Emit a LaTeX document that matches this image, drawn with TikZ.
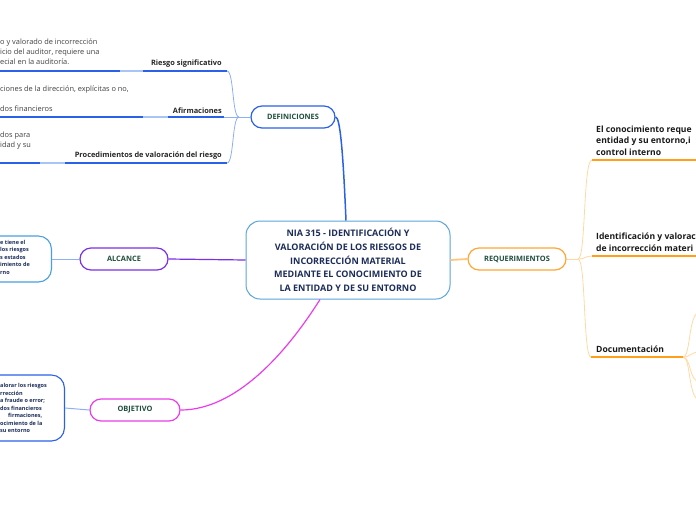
\documentclass[tikz,border=0pt]{standalone}
\usepackage{fontspec}
\setmainfont{Open Sans}
\setsansfont{Open Sans}
\usetikzlibrary{positioning,calc}

\definecolor{nianavy}{HTML}{1C2D5A}
\definecolor{pillgreen}{HTML}{1F4E3D}
\definecolor{mainblue}{HTML}{5AA5DC}
\definecolor{defblue}{HTML}{2B60E8}
\definecolor{lightseg}{HTML}{A9C5F6}
\definecolor{branchblue}{HTML}{8DB0F4}
\definecolor{alcpurple}{HTML}{7B2FE6}
\definecolor{objmagenta}{HTML}{EA3CEA}
\definecolor{alcnoteblue}{HTML}{4A9FE0}
\definecolor{reqorange}{HTML}{FFA733}
\definecolor{reqlight}{HTML}{FFC77E}
\definecolor{reqline}{HTML}{FF9F1A}
\definecolor{reqthin}{HTML}{FFD9A3}

\begin{document}
\begin{tikzpicture}[x=1pt,y=-1pt,font=\sffamily,
    pill/.style={rectangle, rounded corners=11pt, draw=#1, line width=1.2pt,
        fill=white, minimum height=22pt, inner sep=0pt, text=pillgreen,
        font=\sffamily\bfseries\fontsize{7.4}{8}\selectfont},
    sublabel/.style={inner sep=1pt, text=black!85,
        font=\sffamily\bfseries\fontsize{7.4}{8}\selectfont},
    notetext/.style={inner sep=0pt, anchor=north west, align=left, text=black!75,
        font=\sffamily\fontsize{7.4}{9.8}\selectfont},
    boxtext/.style={inner sep=0pt, anchor=north west, align=left, text=nianavy,
        font=\sffamily\bfseries\fontsize{5.5}{7.5}\selectfont},
    notebox/.style={rectangle, rounded corners=13pt, draw=#1, line width=1.1pt, fill=white},
    reqlabel/.style={inner sep=0pt, anchor=south west, align=left, text=black!90,
        font=\sffamily\bfseries\fontsize{8.6}{11.8}\selectfont},
    uline/.style={line width=1.8pt, draw=defblue},
    segline/.style={line width=1.8pt, draw=lightseg},
    thinblue/.style={line width=0.8pt, draw=branchblue},
    orangeline/.style={line width=1.8pt, draw=reqline},
    thinorange/.style={line width=0.8pt, draw=reqthin}]

\useasboundingbox (0,0) rectangle (696,520);
\clip (0,0) rectangle (696,520);

\node[rectangle, rounded corners=14pt, draw=mainblue, line width=1pt, fill=white,
      minimum width=204pt, minimum height=78pt, align=center, text=nianavy,
      font=\sffamily\bfseries\fontsize{9}{13.6}\selectfont] (main) at (348,260)
    {NIA 315 - IDENTIFICACIÓN Y\\VALORACIÓN DE LOS RIESGOS DE\\INCORRECCIÓN MATERIAL\\MEDIANTE EL CONOCIMIENTO DE\\LA ENTIDAD Y DE SU ENTORNO};

\node[pill=defblue, minimum width=84pt] (defin) at (293,117) {DEFINICIONES};
\node[pill=alcpurple, minimum width=88pt] (alcance) at (124,259) {ALCANCE};
\node[pill=objmagenta, minimum width=90pt] (objetivo) at (135,410) {OBJETIVO};
\node[pill=reqorange, minimum width=98pt] (req) at (517,259) {REQUERIMIENTOS};

\draw[line width=1.5pt, defblue] ([xshift=-2pt]main.north) .. controls (343,150) and (340,117) .. (defin.east);
\draw[line width=1.2pt, alcpurple] (main.west) -- (alcance.east);
\draw[line width=1.2pt, objmagenta] ([xshift=-28pt]main.south) .. controls (285,355) and (235,410) .. (objetivo.east);
\draw[line width=1.8pt, reqlight] (main.east) -- (req.west);

\coordinate (riesgo0) at (0,71);
\coordinate (riesgoend) at (227,71);
\coordinate (afirm0) at (0,117);
\coordinate (afirmend) at (224,117);
\coordinate (proc0) at (0,163);
\coordinate (procend) at (227,163);
\coordinate (defjoin) at (239,117);

\draw[uline] (riesgo0) -- (riesgoend);
\draw[segline] (120,71) -- (143,71);
\draw[uline] (afirm0) -- (afirmend);
\draw[segline] (143,117) -- (168,117);
\draw[uline] (proc0) -- (procend);
\draw[segline] (40,163) -- (65,163);

\draw[thinblue] (defin.west) -- (defjoin);
\draw[thinblue] (defjoin) -- (afirmend);
\draw[thinblue] (defjoin) .. controls (232,117) and (234,71) .. (riesgoend);
\draw[thinblue] (defjoin) .. controls (232,117) and (234,163) .. (procend);

\node[sublabel, anchor=south east] (riesgo) at (223,68.5) {Riesgo significativo};
\node[sublabel, anchor=south east] (afirm) at (223,114.5) {Afirmaciones};
\node[sublabel, anchor=south east] (proc) at (223,160.5) {Procedimientos de valoración del riesgo};

\node[notetext] (riesgonote) at (0,39) {o y valorado de incorrección\\icio del auditor, requiere una\\ecial en la auditoría.};
\node[notetext] (afirmnote) at (0,86) {ciones de la dirección, explícitas o no,\\\mbox{}\\dos financieros};
\node[notetext] (procnote) at (0,132) {dos para\\idad y su};

\node[notebox=alcnoteblue, minimum width=90pt, minimum height=46pt, anchor=east] (alcnote) at (52,259) {};
\node[boxtext] (alcnotetext) at (0,240) {e tiene el\\los riesgos\\s estados\\imiento de\\rno};
\draw[thinblue, line width=1pt] (alcance.west) -- (alcnote.east);

\node[notebox=defblue, minimum width=100pt, minimum height=66pt, anchor=east] (objnote) at (65,408) {};
\node[boxtext] (objnotetext) at (0,383.5) {alorar los riesgos\\rrección\\a fraude o error;\\dos financieros\\\hspace{8pt}firmaciones,\\ocimiento de la\\su entorno};
\draw[thinblue, line width=1pt] (objetivo.west) -- (objnote.east);

\coordinate (reqjoin) at (578,259);
\coordinate (conocend) at (592,160);
\coordinate (identend) at (592,256);
\coordinate (docend0) at (591,357);
\coordinate (docend) at (683,357);

\draw[thinorange] (req.east) -- (reqjoin);
\draw[thinorange] (reqjoin) .. controls (586,259) and (583,160) .. (conocend);
\draw[thinorange] (reqjoin) .. controls (586,259) and (585,256) .. (identend);
\draw[thinorange] (reqjoin) .. controls (586,259) and (583,357) .. (docend0);

\draw[orangeline] (conocend) -- (700,160);
\draw[orangeline] (identend) -- (700,256);
\draw[orangeline] (docend0) -- (docend);

\node[reqlabel] (conoc) at (596,156) {El conocimiento reque\\entidad y su entorno,i\\control interno};
\node[reqlabel] (ident) at (596,252) {Identificación y valorac\\de incorrección materi};
\node[reqlabel] (doc) at (596,353) {Documentación};

\draw[thinorange] (docend) .. controls (691,357) and (688,312) .. (700,312);
\draw[thinorange] (docend) .. controls (691,357) and (690,352) .. (700,352);
\draw[thinorange] (docend) .. controls (691,357) and (689,382) .. (700,382);
\draw[thinorange] (docend) .. controls (691,357) and (688,400) .. (700,400);
\end{tikzpicture}
\end{document}
